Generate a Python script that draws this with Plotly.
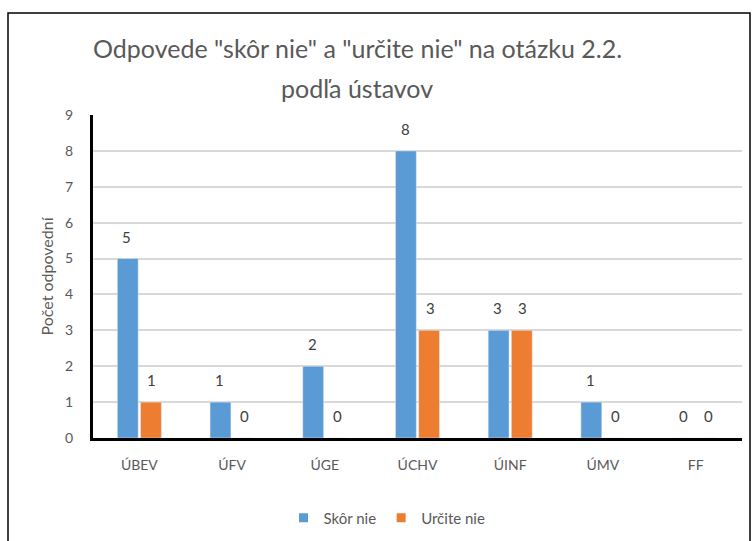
import plotly.graph_objects as go

categories = ["ÚBEV", "ÚFV", "ÚGE", "ÚCHV", "ÚINF", "ÚMV", "FF"]
skor_nie = [5, 1, 2, 8, 3, 1, 0]
urcite_nie = [1, 0, 0, 3, 3, 0, 0]
series_names = ["Skôr nie", "Určite nie"]
y_ticks = list(range(0, 10))
title_lines = ['Odpovede "skôr nie" a "určite nie" na otázku 2.2.', "podľa ústavov"]

W, H = 753, 541
L, R, T, B = 93, 11, 115, 103
pw, ph = W - L - R, H - T - B

def px_x(p):
    return (p - L) / pw

def px_y(p):
    return (H - B - p) / ph

font = "Lato, 'Open Sans', sans-serif"
colors = ["#5B9BD5", "#ED7D31"]

fig = go.Figure()
for name, vals, col in zip(series_names, [skor_nie, urcite_nie], colors):
    fig.add_trace(go.Bar(x=categories, y=vals, name=name, marker_color=col,
                         showlegend=False, hoverinfo="skip"))
    fig.add_trace(go.Scatter(x=[None], y=[None], mode="markers", name=name,
                             marker=dict(symbol="square", size=9, color=col)))

annotations = []
for vals, shift in zip([skor_nie, urcite_nie], [-12.5, 12.5]):
    for c, v in zip(categories, vals):
        annotations.append(dict(x=c, y=v, xref="x", yref="y", text=str(v),
                                showarrow=False, xshift=shift, yshift=22,
                                font=dict(size=15, color="#404040", family=font)))
for line, ypx in zip(title_lines, [48, 88]):
    annotations.append(dict(x=px_x(357), y=px_y(ypx), xref="paper", yref="paper",
                            text=line, showarrow=False, xanchor="center",
                            yanchor="middle",
                            font=dict(size=25, color="#595959", family=font)))

fig.update_layout(
    width=W, height=H,
    margin=dict(l=L, r=R, t=T, b=B, autoexpand=False),
    paper_bgcolor="white", plot_bgcolor="white",
    font=dict(family=font, color="#595959", size=13),
    barmode="group", bargap=0.5, bargroupgap=0.1,
    xaxis=dict(showline=True, linecolor="black", linewidth=3, ticks="",
               automargin=False, ticklabelstandoff=12,
               tickfont=dict(size=14, color="#595959")),
    yaxis=dict(range=[0, 9], tickvals=y_ticks, showgrid=True, gridcolor="#D9D9D9",
               gridwidth=1.5, showline=True, linecolor="black", linewidth=3,
               zeroline=False, ticks="", ticklabelstandoff=14, automargin=False,
               tickfont=dict(size=14, color="#595959"),
               title=dict(text="Počet odpovední", font=dict(size=16, color="#595959"),
                          standoff=8)),
    legend=dict(orientation="h", x=px_x(387), xanchor="center", y=px_y(518),
                yanchor="middle", font=dict(size=15, color="#595959"),
                itemwidth=30, traceorder="normal"),
    annotations=annotations,
    shapes=[dict(type="rect", xref="paper", yref="paper",
                 x0=px_x(8), x1=px_x(750), y0=px_y(13), y1=px_y(560),
                 line=dict(color="black", width=1.5), fillcolor="rgba(0,0,0,0)",
                 layer="below")],
)

fig.write_html("out.html", config={"displayModeBar": False},
               post_script="document.body.style.margin='0';document.body.style.padding='0';")
